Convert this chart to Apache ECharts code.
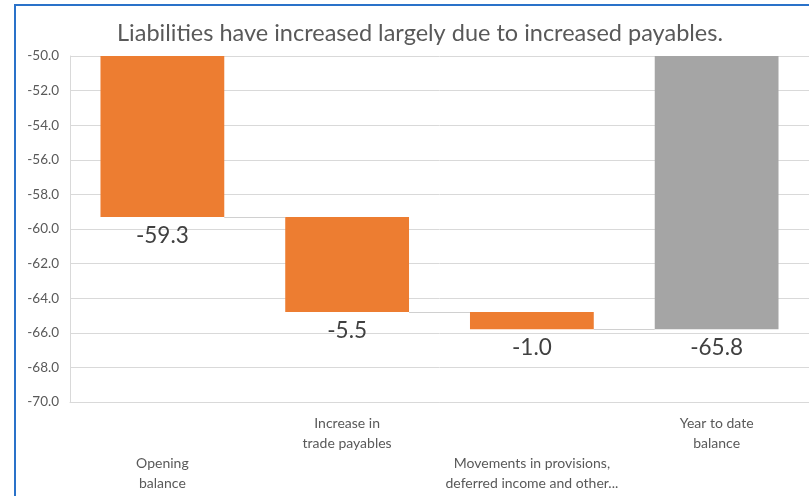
<!DOCTYPE html>
<html>
<head>
<meta charset="utf-8">
<script src="https://cdn.jsdelivr.net/npm/echarts@6/dist/echarts.min.js"></script>
<style>
  html, body { margin: 0; padding: 0; background: #fff; }
  #chart { width: 809px; height: 496px; }
</style>
</head>
<body>
<div id="chart"></div>
<script>
// Waterfall of liabilities movements (values in the axis units)
const categories = [
  'Opening balance',
  'Increase in trade payables',
  'Movements in provisions, deferred income and other...',
  'Year to date balance'
];
const categoryLines = [
  ['Opening', 'balance'],
  ['Increase in', 'trade payables'],
  ['Movements in provisions,', 'deferred income and other...'],
  ['Year to date', 'balance']
];
// Amount shown on each bar
const amounts = [-59.3, -5.5, -1.0, -65.8];
// Running level each step starts from (invisible base of the floating bars)
const baseLevels = [0, -59.3, -64.8, 0];
// Running level after each step, joined to the next bar by a connector
const connectorLevels = [-59.3, -64.8, -65.8];
const barColors = ['#ED7D31', '#ED7D31', '#ED7D31', '#A5A5A5'];

const yMin = -70, yMax = -50, yStep = 2;
const font = 'Lato, "Open Sans", sans-serif';
const gapRatio = 0.33;
const barGap = (gapRatio * 100) + '%';

const chart = echarts.init(document.getElementById('chart'), null, { renderer: 'canvas' });

chart.setOption({
  animation: false,
  textStyle: { fontFamily: font },
  grid: { left: 70, top: 56, width: 742, height: 346, containLabel: false },
  graphic: [
    {
      type: 'rect',
      shape: { x: 15, y: 5, width: 1200, height: 1200 },
      style: { fill: null, stroke: '#2a72c9', lineWidth: 2 },
      silent: true
    },
    {
      type: 'text',
      x: 420, y: 33,
      style: {
        text: 'Liabilities have increased largely due to increased payables.',
        font: '23.5px ' + font,
        fill: '#595959',
        align: 'center',
        verticalAlign: 'middle'
      }
    }
  ],
  xAxis: {
    type: 'category',
    data: categories,
    axisLine: { show: true, lineStyle: { color: '#d9d9d9' } },
    axisTick: { show: false },
    splitLine: { show: false },
    axisLabel: {
      interval: 0,
      margin: 11,
      color: '#595959',
      fontSize: 14,
      lineHeight: 20,
      fontFamily: font,
      formatter: function (value, index) {
        const lines = categoryLines[index];
        return (index % 2 === 0 ? '\u00a0\n\u00a0\n' : '') + lines.join('\n');
      }
    }
  },
  yAxis: {
    type: 'value',
    min: yMin,
    max: yMax,
    interval: yStep,
    axisLine: { show: true, lineStyle: { color: '#d9d9d9' } },
    axisTick: { show: false },
    splitLine: { show: true, lineStyle: { color: '#d9d9d9', width: 1 } },
    axisLabel: {
      margin: 11,
      color: '#595959',
      fontSize: 13.5,
      fontFamily: font,
      formatter: v => v.toFixed(1)
    }
  },
  series: [
    {
      name: 'base',
      type: 'bar',
      stack: 'wf',
      barCategoryGap: barGap,
      itemStyle: { color: 'transparent' },
      silent: true,
      data: baseLevels
    },
    {
      name: 'amount',
      type: 'bar',
      stack: 'wf',
      barCategoryGap: barGap,
      data: amounts.map((v, i) => ({ value: v, itemStyle: { color: barColors[i] } })),
      label: {
        show: true,
        position: 'bottom',
        distance: 7,
        color: '#404040',
        fontSize: 22.5,
        fontFamily: font,
        formatter: p => p.value.toFixed(1)
      }
    },
    {
      name: 'connector',
      type: 'custom',
      silent: true,
      z: 1,
      data: connectorLevels.map((v, i) => [i, v]),
      renderItem: function (params, api) {
        const i = api.value(0);
        const v = api.value(1);
        const a = api.coord([i, v]);
        const b = api.coord([i + 1, v]);
        const half = api.size([1, 0])[0] * (1 - gapRatio) / 2;
        const y = Math.round(a[1]) + 0.5;
        return {
          type: 'line',
          shape: { x1: a[0] + half, y1: y, x2: b[0] - half, y2: y },
          style: { stroke: '#d0d0d0', lineWidth: 1 }
        };
      }
    }
  ]
});
</script>
</body>
</html>
